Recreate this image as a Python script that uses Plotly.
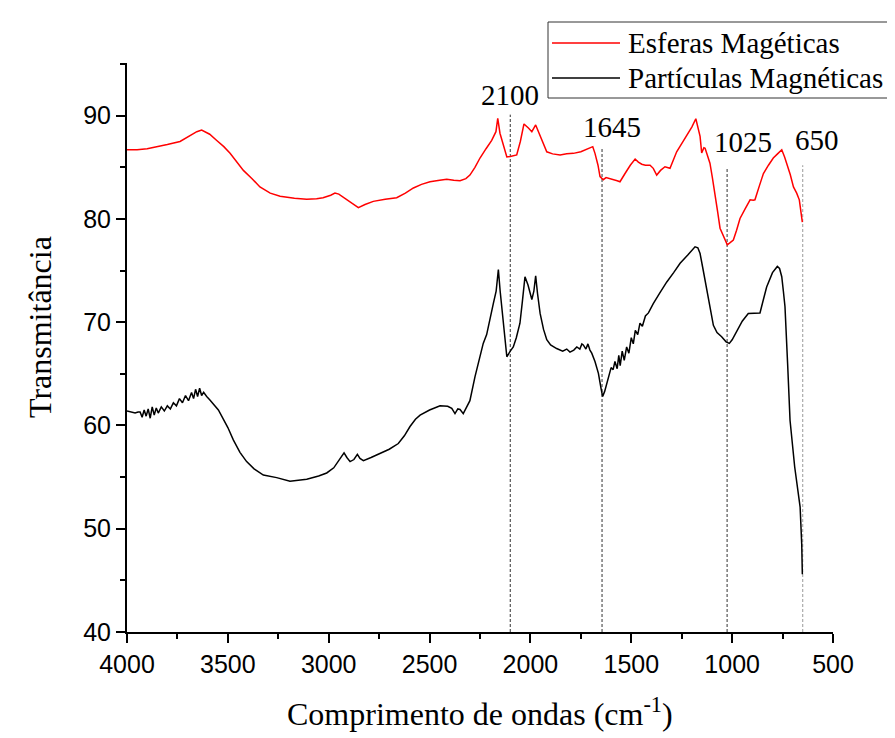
import plotly.graph_objects as go

# ---- Data ----
red_x = [4000, 3950, 3900, 3871, 3800, 3737, 3700, 3654, 3630, 3613, 3590, 3555, 3520, 3489, 3455, 3423,
         3380, 3341, 3290, 3241, 3170, 3109, 3060, 3028, 2990, 2969, 2950, 2929, 2890, 2853, 2820, 2779,
         2720, 2663, 2620, 2580, 2540, 2498, 2450, 2415, 2380, 2349, 2320, 2300, 2275, 2250, 2220, 2192,
         2171, 2162, 2151, 2130, 2117, 2100, 2085, 2068, 2050, 2032, 2010, 1993, 1974, 1952, 1935, 1919,
         1890, 1853, 1820, 1787, 1750, 1721, 1700, 1691, 1680, 1665, 1655, 1639, 1625, 1614, 1589, 1570,
         1556, 1545, 1531, 1505, 1481, 1465, 1448, 1430, 1407, 1391, 1374, 1355, 1333, 1308, 1290, 1275,
         1250, 1225, 1200, 1180, 1170, 1159, 1151, 1140, 1134, 1120, 1110, 1098, 1085, 1072, 1060, 1045,
         1035, 1024, 1010, 994, 978, 961, 935, 911, 895, 887, 865, 845, 820, 796, 775, 754, 740, 729, 712,
         696, 680, 667, 660, 652]
red_y = [86.7, 86.7, 86.8, 86.9, 87.2, 87.5, 87.9, 88.45, 88.6, 88.45, 88.2, 87.6, 87.0, 86.35, 85.5, 84.7,
         83.9, 83.1, 82.5, 82.2, 82.0, 81.9, 81.95, 82.05, 82.3, 82.5, 82.4, 82.1, 81.6, 81.1, 81.4, 81.7,
         81.9, 82.05, 82.5, 83.0, 83.35, 83.6, 83.75, 83.85, 83.75, 83.7, 83.9, 84.25, 85.0, 85.9, 86.8, 87.6,
         88.45, 89.75, 88.3, 86.8, 86.0, 86.05, 86.1, 86.2, 87.5, 89.2, 88.8, 88.45, 89.1, 88.0, 87.2, 86.5,
         86.3, 86.2, 86.3, 86.35, 86.5, 86.75, 86.9, 87.0, 86.35, 85.2, 84.1, 83.8, 84.0, 83.95, 83.85, 83.7,
         83.6, 84.0, 84.4, 85.2, 85.8, 85.5, 85.3, 85.2, 85.2, 84.9, 84.25, 84.7, 85.05, 84.9, 85.7, 86.5,
         87.3, 88.1, 88.9, 89.7, 89.0, 88.0, 86.4, 86.9, 86.85, 86.0, 85.4, 84.0, 82.5, 80.7, 79.1, 78.4,
         77.9, 77.5, 77.7, 77.95, 78.9, 80.05, 81.0, 81.85, 81.8, 81.85, 83.2, 84.4, 85.2, 85.9, 86.3, 86.7,
         86.0, 85.4, 84.3, 83.1, 82.5, 81.85, 80.8, 79.7]

black_x = [4000, 3980, 3960, 3945, 3935, 3925, 3915, 3905, 3895, 3885, 3875, 3865, 3855, 3845, 3830, 3815,
           3800, 3785, 3770, 3755, 3740, 3725, 3710, 3695, 3680, 3670, 3660, 3650, 3640, 3630, 3620, 3605,
           3590, 3547, 3500, 3473, 3440, 3407, 3370, 3324, 3258, 3192, 3109, 3050, 3010, 2975, 2952, 2935,
           2924, 2910, 2894, 2875, 2858, 2845, 2828, 2790, 2746, 2700, 2655, 2625, 2597, 2570, 2547, 2500,
           2448, 2410, 2390, 2374, 2360, 2349, 2333, 2316, 2300, 2275, 2250, 2234, 2217, 2200, 2184, 2170,
           2159, 2150, 2142, 2130, 2117, 2100, 2085, 2070, 2052, 2040, 2027, 2012, 1993, 1983, 1974, 1965,
           1952, 1935, 1919, 1900, 1870, 1840, 1820, 1804, 1785, 1770, 1755, 1745, 1738, 1725, 1715, 1705,
           1696, 1680, 1663, 1650, 1642, 1632, 1622, 1614, 1600, 1590, 1581, 1570, 1562, 1555, 1545, 1535,
           1523, 1512, 1500, 1490, 1480, 1468, 1457, 1445, 1430, 1415, 1400, 1391, 1360, 1324, 1290, 1258,
           1220, 1184, 1170, 1159, 1145, 1126, 1110, 1093, 1075, 1052, 1030, 1014, 1000, 977, 950, 920, 890,
           862, 845, 829, 800, 776, 765, 754, 746, 738, 725, 713, 690, 663, 655, 652]
black_y = [61.4, 61.3, 61.2, 61.3, 61.3, 60.8, 61.5, 60.9, 61.6, 60.7, 61.8, 61.0, 61.7, 61.2, 61.8, 61.4,
           61.9, 61.6, 62.2, 61.9, 62.6, 62.2, 62.9, 62.4, 63.2, 62.6, 63.5, 62.8, 63.6, 62.9, 63.2, 62.8,
           62.5, 61.5, 59.8, 58.6, 57.4, 56.5, 55.8, 55.2, 54.95, 54.6, 54.8, 55.1, 55.4, 55.9, 56.5, 57.0,
           57.35, 56.9, 56.5, 56.7, 57.2, 56.8, 56.6, 56.9, 57.3, 57.7, 58.25, 59.0, 59.9, 60.6, 61.0, 61.5,
           61.9, 61.85, 61.65, 61.15, 61.6, 61.55, 61.15, 61.8, 62.4, 64.7, 66.6, 67.95, 68.8, 70.2, 71.8, 73.0,
           75.1, 73.0, 71.5, 68.8, 66.65, 67.2, 67.6, 68.5, 69.9, 72.0, 74.4, 73.6, 72.2, 73.0, 74.5, 72.8,
           70.85, 69.3, 68.3, 67.8, 67.45, 67.2, 67.4, 67.1, 67.3, 67.6, 67.4, 67.9, 67.8, 67.4, 67.9, 67.3,
           67.0, 66.2, 65.05, 63.6, 62.8, 63.3, 64.0, 64.7, 65.6, 65.4, 66.2, 65.5, 66.8, 65.8, 67.2, 66.3,
           67.6, 67.0, 68.5, 67.9, 69.2, 68.8, 69.9, 69.6, 70.6, 70.9, 71.5, 71.8, 72.8, 73.9, 74.8, 75.7,
           76.5, 77.3, 77.2, 76.65, 75.2, 73.1, 71.3, 69.7, 69.0, 68.6, 68.1, 67.95, 68.3, 69.1, 70.1, 70.85, 70.9,
           70.9, 72.2, 73.4, 74.8, 75.4, 75.2, 74.4, 73.0, 71.5, 66.0, 60.5, 56.0, 52.1, 48.5, 45.6]

series_names = ["Esferas Magéticas", "Partículas Magnéticas"]
series_colors = ["#ff0000", "#000000"]

band_positions = [2100, 1645, 1025, 650]
band_tops = [90.1, 86.9, 84.9, 85.2]
band_labels = ["2100", "1645", "1025", "650"]
x_ticks = [4000, 3500, 3000, 2500, 2000, 1500, 1000, 500]
y_ticks = [40, 50, 60, 70, 80, 90]

x_title = "Comprimento de ondas (cm<sup>-1</sup>)"
y_title = "Transmitância"

# ---- Layout constants (page pixels; page body adds an 8px offset) ----
OFF = 8
W, H = 895 - OFF, 738 - OFF
PL, PR, PT, PB = 127, 833, 63, 632          # plot area edges on the page
L, T = PL - OFF, PT - OFF
R, B = W - (PR - OFF), H - (PB - OFF)
PW, PH = PR - PL, PB - PT

def px(xp):
    return (xp - PL) / PW

def py(yp):
    return (PB - yp) / PH

SERIF = "Liberation Serif, Times New Roman, serif"
SANS = "Liberation Sans, Arial, sans-serif"

fig = go.Figure()

# band marker lines
band_colors = ["#333333", "#333333", "#333333", "#999999"]
for bx, bt, bc in zip(band_positions, band_tops, band_colors):
    fig.add_trace(go.Scatter(x=[bx, bx], y=[40, bt], mode="lines",
                             line=dict(color=bc, width=1, dash="3px,2px"),
                             showlegend=False, hoverinfo="skip"))

fig.add_trace(go.Scatter(x=red_x, y=red_y, mode="lines", name=series_names[0],
                         line=dict(color=series_colors[0], width=1.5), showlegend=False))
fig.add_trace(go.Scatter(x=black_x, y=black_y, mode="lines", name=series_names[1],
                         line=dict(color=series_colors[1], width=1.5), showlegend=False))

# band labels (label placement offsets)
label_pos = [(2100, 92.0), (1595, 88.9), (946, 87.45), (579, 87.6)]
annotations = []
for (lx, ly), txt in zip(label_pos, band_labels):
    annotations.append(dict(x=lx, y=ly, xref="x", yref="y", text=txt, showarrow=False,
                            font=dict(family=SERIF, size=29, color="#000"),
                            xanchor="center", yanchor="middle"))

# axis titles
annotations.append(dict(x=px(480), y=py(712), xref="paper", yref="paper", text=x_title,
                        showarrow=False, xanchor="center", yanchor="middle",
                        font=dict(family=SERIF, size=32, color="#000")))
annotations.append(dict(x=px(40), y=py(327), xref="paper", yref="paper", text=y_title,
                        showarrow=False, xanchor="center", yanchor="middle", textangle=-90,
                        font=dict(family=SERIF, size=32, color="#000")))

# manual legend
shapes = [dict(type="rect", xref="paper", yref="paper",
               x0=px(548), x1=px(892), y0=py(98), y1=py(22),
               line=dict(color="#333", width=1), fillcolor="white", layer="below")]
for i, (nm, col) in enumerate(zip(series_names, series_colors)):
    yy = 43 + 35 * i
    shapes.append(dict(type="line", xref="paper", yref="paper",
                       x0=px(552), x1=px(620), y0=py(yy), y1=py(yy),
                       line=dict(color=col, width=1.5)))
    annotations.append(dict(x=px(626), y=py(yy), xref="paper", yref="paper", text=nm,
                            showarrow=False, xanchor="left", yanchor="middle",
                            font=dict(family=SERIF, size=29, color="#000")))

fig.update_layout(
    width=W, height=H,
    margin=dict(l=L, r=R, t=T, b=B, autoexpand=False),
    paper_bgcolor="white", plot_bgcolor="white",
    showlegend=False,
    shapes=shapes,
    annotations=annotations,
    xaxis=dict(range=[4000, 500], tickvals=x_ticks, ticks="outside", ticklen=9, tickwidth=2,
               tickcolor="#000", showline=True, linewidth=2, linecolor="#000",
               showgrid=False, zeroline=False, automargin=False,
               minor=dict(dtick=250, ticks="outside", ticklen=5, tickwidth=2, tickcolor="#000", showgrid=False),
               tickfont=dict(family=SANS, size=25, color="#000")),
    yaxis=dict(range=[40, 95.1], tickvals=y_ticks, ticks="outside", ticklen=9, tickwidth=2,
               tickcolor="#000", showline=True, linewidth=2, linecolor="#000",
               showgrid=False, zeroline=False, automargin=False,
               minor=dict(dtick=5, ticks="outside", ticklen=5, tickwidth=2, tickcolor="#000", showgrid=False),
               tickfont=dict(family=SANS, size=25, color="#000")),
)

fig.write_html("out.html")
